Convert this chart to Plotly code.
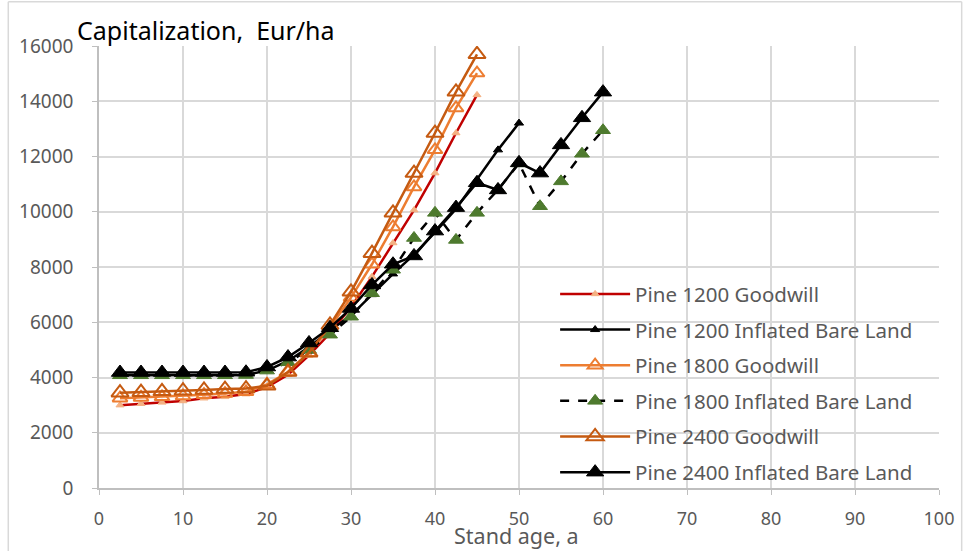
import plotly.graph_objects as go

# Stand ages (years) on a 2.5-year step
age_gw = [2.5, 5, 7.5, 10, 12.5, 15, 17.5, 20, 22.5, 25, 27.5, 30, 32.5, 35, 37.5, 40, 42.5, 45]
age_1200_ibl = age_gw + [47.5, 50]
age_long = age_1200_ibl + [52.5, 55, 57.5, 60]

# Capitalization, Eur/ha
pine1200_goodwill = [3000, 3050, 3100, 3150, 3250, 3300, 3400, 3650, 4100, 4800, 5600, 6550,
                     7650, 8870, 10060, 11400, 12850, 14230]
pine1200_inflated = [4080, 4080, 4080, 4080, 4080, 4080, 4090, 4250, 4600, 5100, 5700, 6250,
                     7000, 7750, 8450, 9250, 10100, 11150, 12240, 13210]
pine1800_goodwill = [3250, 3280, 3300, 3330, 3380, 3420, 3480, 3750, 4200, 4900, 5800, 6900,
                     8100, 9450, 10900, 12240, 13760, 15020]
pine1800_inflated = [4080, 4080, 4080, 4080, 4080, 4080, 4090, 4250, 4550, 5000, 5550, 6200,
                     7050, 7900, 9050, 9960, 8980, 9960, 10800, 11750, 10200, 11100, 12100, 12950]
pine2400_goodwill = [3450, 3470, 3500, 3520, 3550, 3580, 3600, 3700, 4200, 4900, 5900, 7100,
                     8500, 9960, 11400, 12850, 14340, 15700]
pine2400_inflated = [4180, 4180, 4180, 4180, 4180, 4180, 4190, 4380, 4740, 5250, 5800, 6500,
                     7350, 8100, 8400, 9300, 10150, 11050, 10790, 11770, 11400, 12420, 13400, 14330]

x_ticks = [0, 10, 20, 30, 40, 50, 60, 70, 80, 90, 100]
y_ticks = [0, 2000, 4000, 6000, 8000, 10000, 12000, 14000, 16000]

FONT = "Noto Sans"
GREY_TXT = "#595959"

series = [
    ("Pine 1200 Goodwill", age_gw, pine1200_goodwill,
     dict(color="#C00000", width=2.5, dash="solid"),
     dict(symbol="triangle-up", size=7, color="#F4B183", line=dict(color="#F4B183", width=1))),
    ("Pine 1200 Inflated Bare Land", age_1200_ibl, pine1200_inflated,
     dict(color="#000000", width=2.5, dash="solid"),
     dict(symbol="triangle-up", size=8, color="#000000", line=dict(color="#000000", width=1))),
    ("Pine 1800 Goodwill", age_gw, pine1800_goodwill,
     dict(color="#ED7D31", width=2.5, dash="solid"),
     dict(symbol="triangle-up", size=13, color="rgba(255,255,255,0)", line=dict(color="#ED7D31", width=2))),
    ("Pine 1800 Inflated Bare Land", age_long, pine1800_inflated,
     dict(color="#000000", width=2.5, dash="dash"),
     dict(symbol="triangle-up", size=13, color="#4E7A2E", line=dict(color="#4E7A2E", width=1))),
    ("Pine 2400 Goodwill", age_gw, pine2400_goodwill,
     dict(color="#C55A11", width=2.5, dash="solid"),
     dict(symbol="triangle-up", size=15, color="rgba(255,255,255,0)", line=dict(color="#C55A11", width=2))),
    ("Pine 2400 Inflated Bare Land", age_long, pine2400_inflated,
     dict(color="#000000", width=2.5, dash="solid"),
     dict(symbol="triangle-up", size=15, color="#000000", line=dict(color="#000000", width=1))),
]

fig = go.Figure()
for i, (name, xs, ys, line, marker) in enumerate(series):
    fig.add_trace(go.Scatter(x=xs, y=ys, name=name, mode="lines+markers",
                             line=line, marker=marker, legendgroup=f"g{i}"))

axis_common = dict(showline=True, linecolor="#BFBFBF", linewidth=1.5,
                   showgrid=True, gridcolor="#D9D9D9", gridwidth=1.5,
                   zeroline=False, ticks="outside", tickcolor="#BFBFBF", ticklen=5,
                   tickformat="d")

fig.update_xaxes(range=[0, 100], tickvals=x_ticks, ticklabelstandoff=9,
                 tickfont=dict(family=FONT, size=18, color=GREY_TXT), **axis_common)
fig.update_yaxes(range=[0, 16000], tickvals=y_ticks, ticklabelstandoff=15,
                 tickfont=dict(family=FONT, size=19, color=GREY_TXT), **axis_common)

fig.update_layout(
    width=973, height=551,
    margin=dict(l=99, r=34, t=46, b=63),
    paper_bgcolor="white", plot_bgcolor="white",
    showlegend=True,
    legend=dict(x=0.543, y=0.484, xanchor="left", yanchor="top",
                bgcolor="rgba(0,0,0,0)", itemwidth=70, tracegroupgap=6,
                traceorder="grouped",
                font=dict(family=FONT, size=20.5, color=GREY_TXT)),
    annotations=[
        dict(text="Capitalization,  Eur/ha", xref="paper", yref="paper",
             x=-0.029, y=1.036, xanchor="left", yanchor="middle", showarrow=False,
             font=dict(family=FONT, size=25, color="#000000")),
        dict(text="Stand age, a", xref="paper", yref="paper",
             x=0.497, y=-0.108, xanchor="center", yanchor="middle", showarrow=False,
             font=dict(family=FONT, size=21.5, color=GREY_TXT)),
    ],
    shapes=[
        dict(type="line", xref="paper", yref="paper", x0=-0.108, x1=-0.108, y0=-0.2, y1=1.1,
             line=dict(color="#D9D9D9", width=1.5)),
        dict(type="line", xref="paper", yref="paper", x0=-0.108, x1=1.027, y0=1.1, y1=1.1,
             line=dict(color="#D9D9D9", width=1.5)),
        dict(type="line", xref="paper", yref="paper", x0=1.027, x1=1.027, y0=-0.2, y1=1.1,
             line=dict(color="#D9D9D9", width=1.5)),
    ],
)

fig.write_html("out.html")
